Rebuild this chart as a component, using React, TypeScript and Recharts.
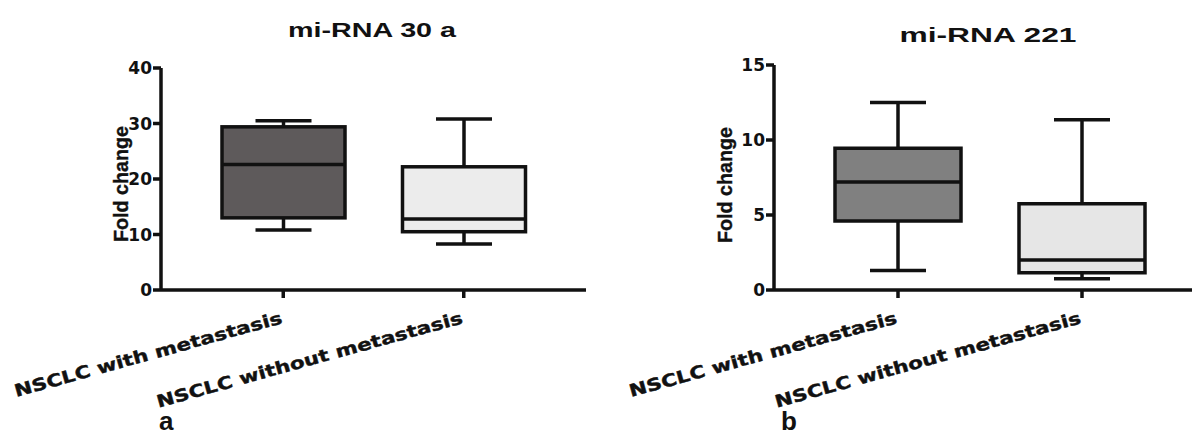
import React from 'react';
import { ComposedChart, Bar, XAxis, YAxis, Cell } from 'recharts';

const groups = ['NSCLC with metastasis', 'NSCLC without metastasis'];

// mi-RNA 30 a (fold change)
const mir30aMin = [10.8, 8.3];
const mir30aQ1 = [13.0, 10.5];
const mir30aMedian = [22.6, 12.8];
const mir30aQ3 = [29.4, 22.2];
const mir30aMax = [30.5, 30.8];
const mir30aTicks = [0, 10, 20, 30, 40];

// mi-RNA 221 (fold change)
const mir221Min = [1.3, 0.75];
const mir221Q1 = [4.6, 1.15];
const mir221Median = [7.2, 2.0];
const mir221Q3 = [9.45, 5.75];
const mir221Max = [12.5, 11.35];
const mir221Ticks = [0, 5, 10, 15];

const buildRows = (min: number[], q1: number[], median: number[], q3: number[], max: number[]) =>
  groups.map((name, i) => ({
    name,
    range: [min[i], max[i]],
    min: min[i],
    q1: q1[i],
    median: median[i],
    q3: q3[i],
    max: max[i],
  }));

const mir30aRows = buildRows(mir30aMin, mir30aQ1, mir30aMedian, mir30aQ3, mir30aMax);
const mir221Rows = buildRows(mir221Min, mir221Q1, mir221Median, mir221Q3, mir221Max);

const INK = '#111';

const BoxShape = (props: any) => {
  const { x, y, width, height, fill } = props;
  const p = props.payload ?? props;
  const top = Math.min(y, y + height);
  const h = Math.abs(height);
  // bar spans min..max, so the pixel scale inside it is linear
  const py = (v: number) => top + ((p.max - v) / (p.max - p.min)) * h;
  const cx = x + width / 2;
  const cap = 28;
  return (
    <g stroke={INK} strokeWidth={3.5} fill="none">
      <line x1={cx} x2={cx} y1={py(p.max)} y2={py(p.q3)} />
      <line x1={cx} x2={cx} y1={py(p.q1)} y2={py(p.min)} />
      <line x1={cx - cap} x2={cx + cap} y1={py(p.max)} y2={py(p.max)} />
      <line x1={cx - cap} x2={cx + cap} y1={py(p.min)} y2={py(p.min)} />
      <rect x={x} y={py(p.q3)} width={width} height={py(p.q1) - py(p.q3)} fill={fill} />
      <line x1={x} x2={x + width} y1={py(p.median)} y2={py(p.median)} />
    </g>
  );
};

const CategoryTick = (props: any) => {
  const { x, y, payload } = props;
  const s = String(payload.value);
  return (
    <g transform={`translate(${x},${y + 23})`}>
      <text
        transform="rotate(-15.5)"
        textAnchor="end"
        fontFamily="DejaVu Sans"
        fontWeight="bold"
        fontSize={17}
        fill={INK}
        stroke={INK}
        strokeWidth={0.4}
        textLength={s.length * 13.2}
        lengthAdjust="spacingAndGlyphs"
      >
        {s}
      </text>
    </g>
  );
};

const NumberTick = (props: any) => {
  const { x, y, payload } = props;
  return (
    <text x={x} y={y} dy="0.36em" textAnchor="end" fontFamily="DejaVu Sans" fontWeight="bold" fontSize={17} fill={INK}>
      {payload.value}
    </text>
  );
};

const FoldLabel = (props: any) => {
  const { viewBox, dx, cy } = props;
  const x = viewBox.x + dx;
  return (
    <text
      x={x}
      y={cy}
      transform={`rotate(-90, ${x}, ${cy})`}
      textAnchor="middle"
      dominantBaseline="central"
      fontFamily="Liberation Sans"
      fontWeight="bold"
      fontSize={21}
      fill={INK}
      stroke={INK}
      strokeWidth={0.4}
      textLength={116}
      lengthAdjust="spacingAndGlyphs"
    >
      Fold change
    </text>
  );
};

interface PanelProps {
  rows: any[];
  ticks: number[];
  fills: string[];
  width: number;
  left: number;
  marginLeft: number;
  marginRight: number;
  top: number;
  padding: { left: number; right: number };
  barSize: number;
  labelDx: number;
  labelCy: number;
}

const Panel = ({ rows, ticks, fills, width, left, marginLeft, marginRight, top, padding, barSize, labelDx, labelCy }: PanelProps) => (
  <div style={{ position: 'absolute', left, top: 0 }}>
    <ComposedChart
      width={width}
      height={440}
      data={rows}
      margin={{ top, right: marginRight, bottom: 120, left: marginLeft }}
    >
      <XAxis
        dataKey="name"
        height={30}
        padding={padding}
        interval={0}
        axisLine={{ stroke: INK, strokeWidth: 3.5 }}
        tickLine={{ stroke: INK, strokeWidth: 3.5 }}
        tickSize={8}
        tick={<CategoryTick />}
      />
      <YAxis
        width={60}
        domain={[0, ticks[ticks.length - 1]]}
        ticks={ticks}
        interval={0}
        axisLine={{ stroke: INK, strokeWidth: 3.5 }}
        tickLine={{ stroke: INK, strokeWidth: 3.5 }}
        tickSize={8}
        tickMargin={1}
        tick={<NumberTick />}
        label={<FoldLabel dx={labelDx} cy={labelCy} />}
      />
      <Bar dataKey="range" barSize={barSize} shape={<BoxShape />} isAnimationActive={false}>
        {rows.map((r, i) => (
          <Cell key={r.name} fill={fills[i]} />
        ))}
      </Bar>
    </ComposedChart>
  </div>
);

const textStyle = { fontFamily: 'Liberation Sans', fontWeight: 'bold' as const, fill: INK };

export default function App() {
  return (
    <div style={{ position: 'absolute', left: 0, top: 0, width: 1192, height: 440, background: '#fff', overflow: 'hidden' }}>
      <Panel
        rows={mir30aRows}
        ticks={mir30aTicks}
        fills={['#5e5a5b', '#ececec']}
        width={600}
        left={0}
        marginLeft={101}
        marginRight={14}
        top={68}
        padding={{ left: 32, right: 32 }}
        barSize={123}
        labelDx={19}
        labelCy={184}
      />
      <Panel
        rows={mir221Rows}
        ticks={mir221Ticks}
        fills={['#808080', '#e6e6e6']}
        width={592}
        left={600}
        marginLeft={114}
        marginRight={0}
        top={65}
        padding={{ left: 32, right: 18 }}
        barSize={126}
        labelDx={10}
        labelCy={185}
      />
      <svg width={1192} height={440} style={{ position: 'absolute', left: 0, top: 0, pointerEvents: 'none' }}>
        <text x={372} y={37} textAnchor="middle" fontSize={21} textLength={168} lengthAdjust="spacingAndGlyphs" {...textStyle}>
          mi-RNA 30 a
        </text>
        <text x={988} y={42} textAnchor="middle" fontSize={20} textLength={177} lengthAdjust="spacingAndGlyphs" {...textStyle}>
          mi-RNA 221
        </text>
        <text x={159} y={430} fontSize={26} {...textStyle}>
          a
        </text>
        <text x={781} y={430} fontSize={26} {...textStyle}>
          b
        </text>
      </svg>
    </div>
  );
}
